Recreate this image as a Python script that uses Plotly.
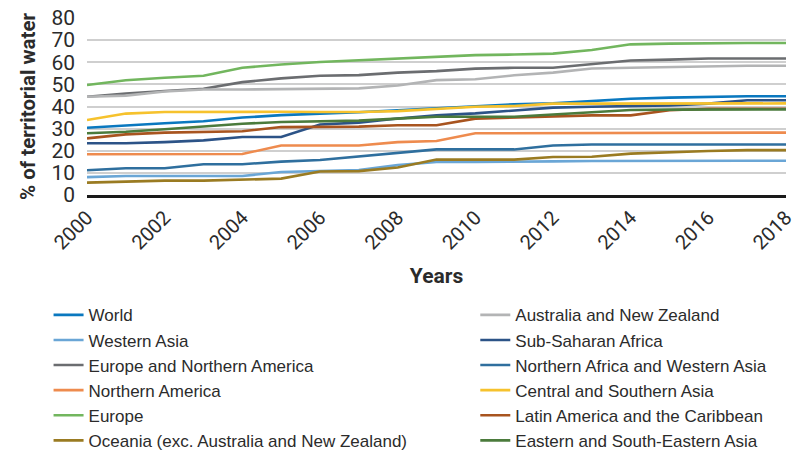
import plotly.graph_objects as go

# ── data ─────────────────────────────────────────────────────────
years = list(range(2000, 2019))

world = [30.4, 31.5, 32.4, 33.3, 35.0, 36.1, 36.6, 37.4, 38.3, 39.3, 40.2, 41.0, 41.4, 42.5, 43.5, 44.0, 44.4, 44.6, 44.6]
western_asia = [8.1, 8.6, 8.6, 8.6, 8.6, 10.4, 10.8, 11.3, 13.5, 14.9, 14.9, 14.9, 15.2, 15.4, 15.5, 15.5, 15.5, 15.5, 15.5]
europe_n_america = [44.4, 45.9, 47.0, 48.0, 51.0, 52.7, 53.9, 54.2, 55.3, 56.0, 57.1, 57.5, 57.5, 59.0, 60.8, 61.2, 61.7, 61.7, 61.7]
northern_america = [18.4, 18.4, 18.4, 18.4, 18.5, 22.4, 22.4, 22.4, 23.9, 24.4, 27.9, 27.9, 27.9, 27.9, 27.9, 28.1, 28.2, 28.2, 28.2]
europe = [49.7, 51.9, 53.0, 53.9, 57.5, 59.0, 60.1, 60.8, 61.6, 62.3, 63.2, 63.5, 63.9, 65.5, 68.1, 68.4, 68.7, 68.7, 68.7]
oceania = [5.6, 6.0, 6.5, 6.5, 7.1, 7.4, 10.6, 10.8, 12.4, 16.0, 16.0, 16.0, 17.2, 17.3, 18.7, 19.4, 19.9, 20.3, 20.3]
australia_nz = [44.4, 44.9, 46.8, 47.7, 47.7, 47.8, 48.0, 48.2, 49.5, 51.9, 52.3, 54.1, 55.3, 57.2, 57.5, 57.9, 58.3, 58.4, 58.4]
sub_saharan = [23.4, 23.4, 23.9, 24.7, 26.2, 26.2, 31.9, 32.7, 34.6, 36.0, 36.9, 38.3, 39.5, 39.9, 40.2, 40.5, 41.3, 42.8, 42.8]
n_africa_w_asia = [11.2, 12.1, 12.1, 13.9, 13.9, 15.1, 15.8, 17.5, 19.1, 20.6, 20.6, 20.6, 22.4, 22.8, 22.8, 22.8, 22.8, 22.8, 22.8]
central_s_asia = [33.9, 36.8, 37.5, 37.6, 37.6, 37.6, 37.5, 37.5, 37.9, 39.0, 39.9, 40.2, 41.3, 41.3, 41.3, 41.4, 41.4, 41.4, 41.4]
latin_america = [25.6, 27.4, 28.2, 28.6, 28.8, 30.7, 30.9, 30.9, 31.5, 31.5, 34.5, 35.0, 35.4, 36.0, 36.0, 38.3, 39.0, 39.0, 39.0]
east_se_asia = [27.9, 28.6, 29.7, 30.9, 32.2, 33.0, 33.4, 33.6, 34.5, 35.4, 35.4, 35.4, 36.4, 37.5, 38.4, 38.6, 38.7, 38.7, 38.7]

# (name, values, colour, legend column)
SERIES = [
    ("World", world, "#0a78bf", "legend"),
    ("Western Asia", western_asia, "#6aa6d6", "legend"),
    ("Europe and Northern America", europe_n_america, "#6b6d70", "legend"),
    ("Northern America", northern_america, "#ee8b4e", "legend"),
    ("Europe", europe, "#72b65e", "legend"),
    ("Oceania (exc. Australia and New Zealand)", oceania, "#9a7b22", "legend"),
    ("Australia and New Zealand", australia_nz, "#b3b4b5", "legend2"),
    ("Sub-Saharan Africa", sub_saharan, "#2c5387", "legend2"),
    ("Northern Africa and Western Asia", n_africa_w_asia, "#2f6f9e", "legend2"),
    ("Central and Southern Asia", central_s_asia, "#f6c22d", "legend2"),
    ("Latin America and the Caribbean", latin_america, "#a8541f", "legend2"),
    ("Eastern and South-Eastern Asia", east_se_asia, "#4b7b3c", "legend2"),
]

TEXT = "#2b2b2b"
GRID = "#cfcfcf"

fig = go.Figure()
for name, vals, color, leg in SERIES:
    fig.add_trace(go.Scatter(
        x=years, y=vals, name=name, mode="lines",
        line=dict(color=color, width=2.6),
        legend=leg,
    ))

LEGEND_STYLE = dict(
    orientation="v", yanchor="top", xanchor="left",
    font=dict(family="Liberation Sans, Arial, sans-serif", size=17, color=TEXT),
    bgcolor="rgba(0,0,0,0)",
)

fig.update_layout(
    width=794, height=451,
    paper_bgcolor="white", plot_bgcolor="white",
    margin=dict(l=87, r=8, t=18, b=256, autoexpand=False),
    font=dict(family="Roboto, sans-serif", color=TEXT),
    showlegend=True,
    legend=dict(**LEGEND_STYLE, x=-0.055, y=-0.578),
    legend2=dict(**LEGEND_STYLE, x=0.5555, y=-0.578),
    xaxis=dict(
        range=[2000, 2018], tickmode="array", tickvals=list(range(2000, 2019, 2)),
        tickangle=-45, tickfont=dict(size=20, color=TEXT), ticklabeloverflow="allow",
        showgrid=False, showline=True, linecolor="#1a1a1a", linewidth=3,
        ticks="", zeroline=False, automargin=False,
        title=dict(text="<b>Years</b>", font=dict(size=21, color=TEXT), standoff=15),
    ),
    yaxis=dict(
        range=[0, 80], dtick=10, tickfont=dict(size=21, color=TEXT), ticklabeloverflow="allow",
        showgrid=True, gridcolor=GRID, gridwidth=1.5, zeroline=False,
        ticks="", ticklabelstandoff=11, automargin=False,
        title=dict(text="<b>% of territorial water</b>", font=dict(size=20.5, color=TEXT), standoff=10),
    ),
)

# drop the browser's default 8px body margin so the figure fills the window
fig.write_html(
    "out.html",
    config={"displayModeBar": False},
    post_script="document.body.style.margin = '0';",
)
